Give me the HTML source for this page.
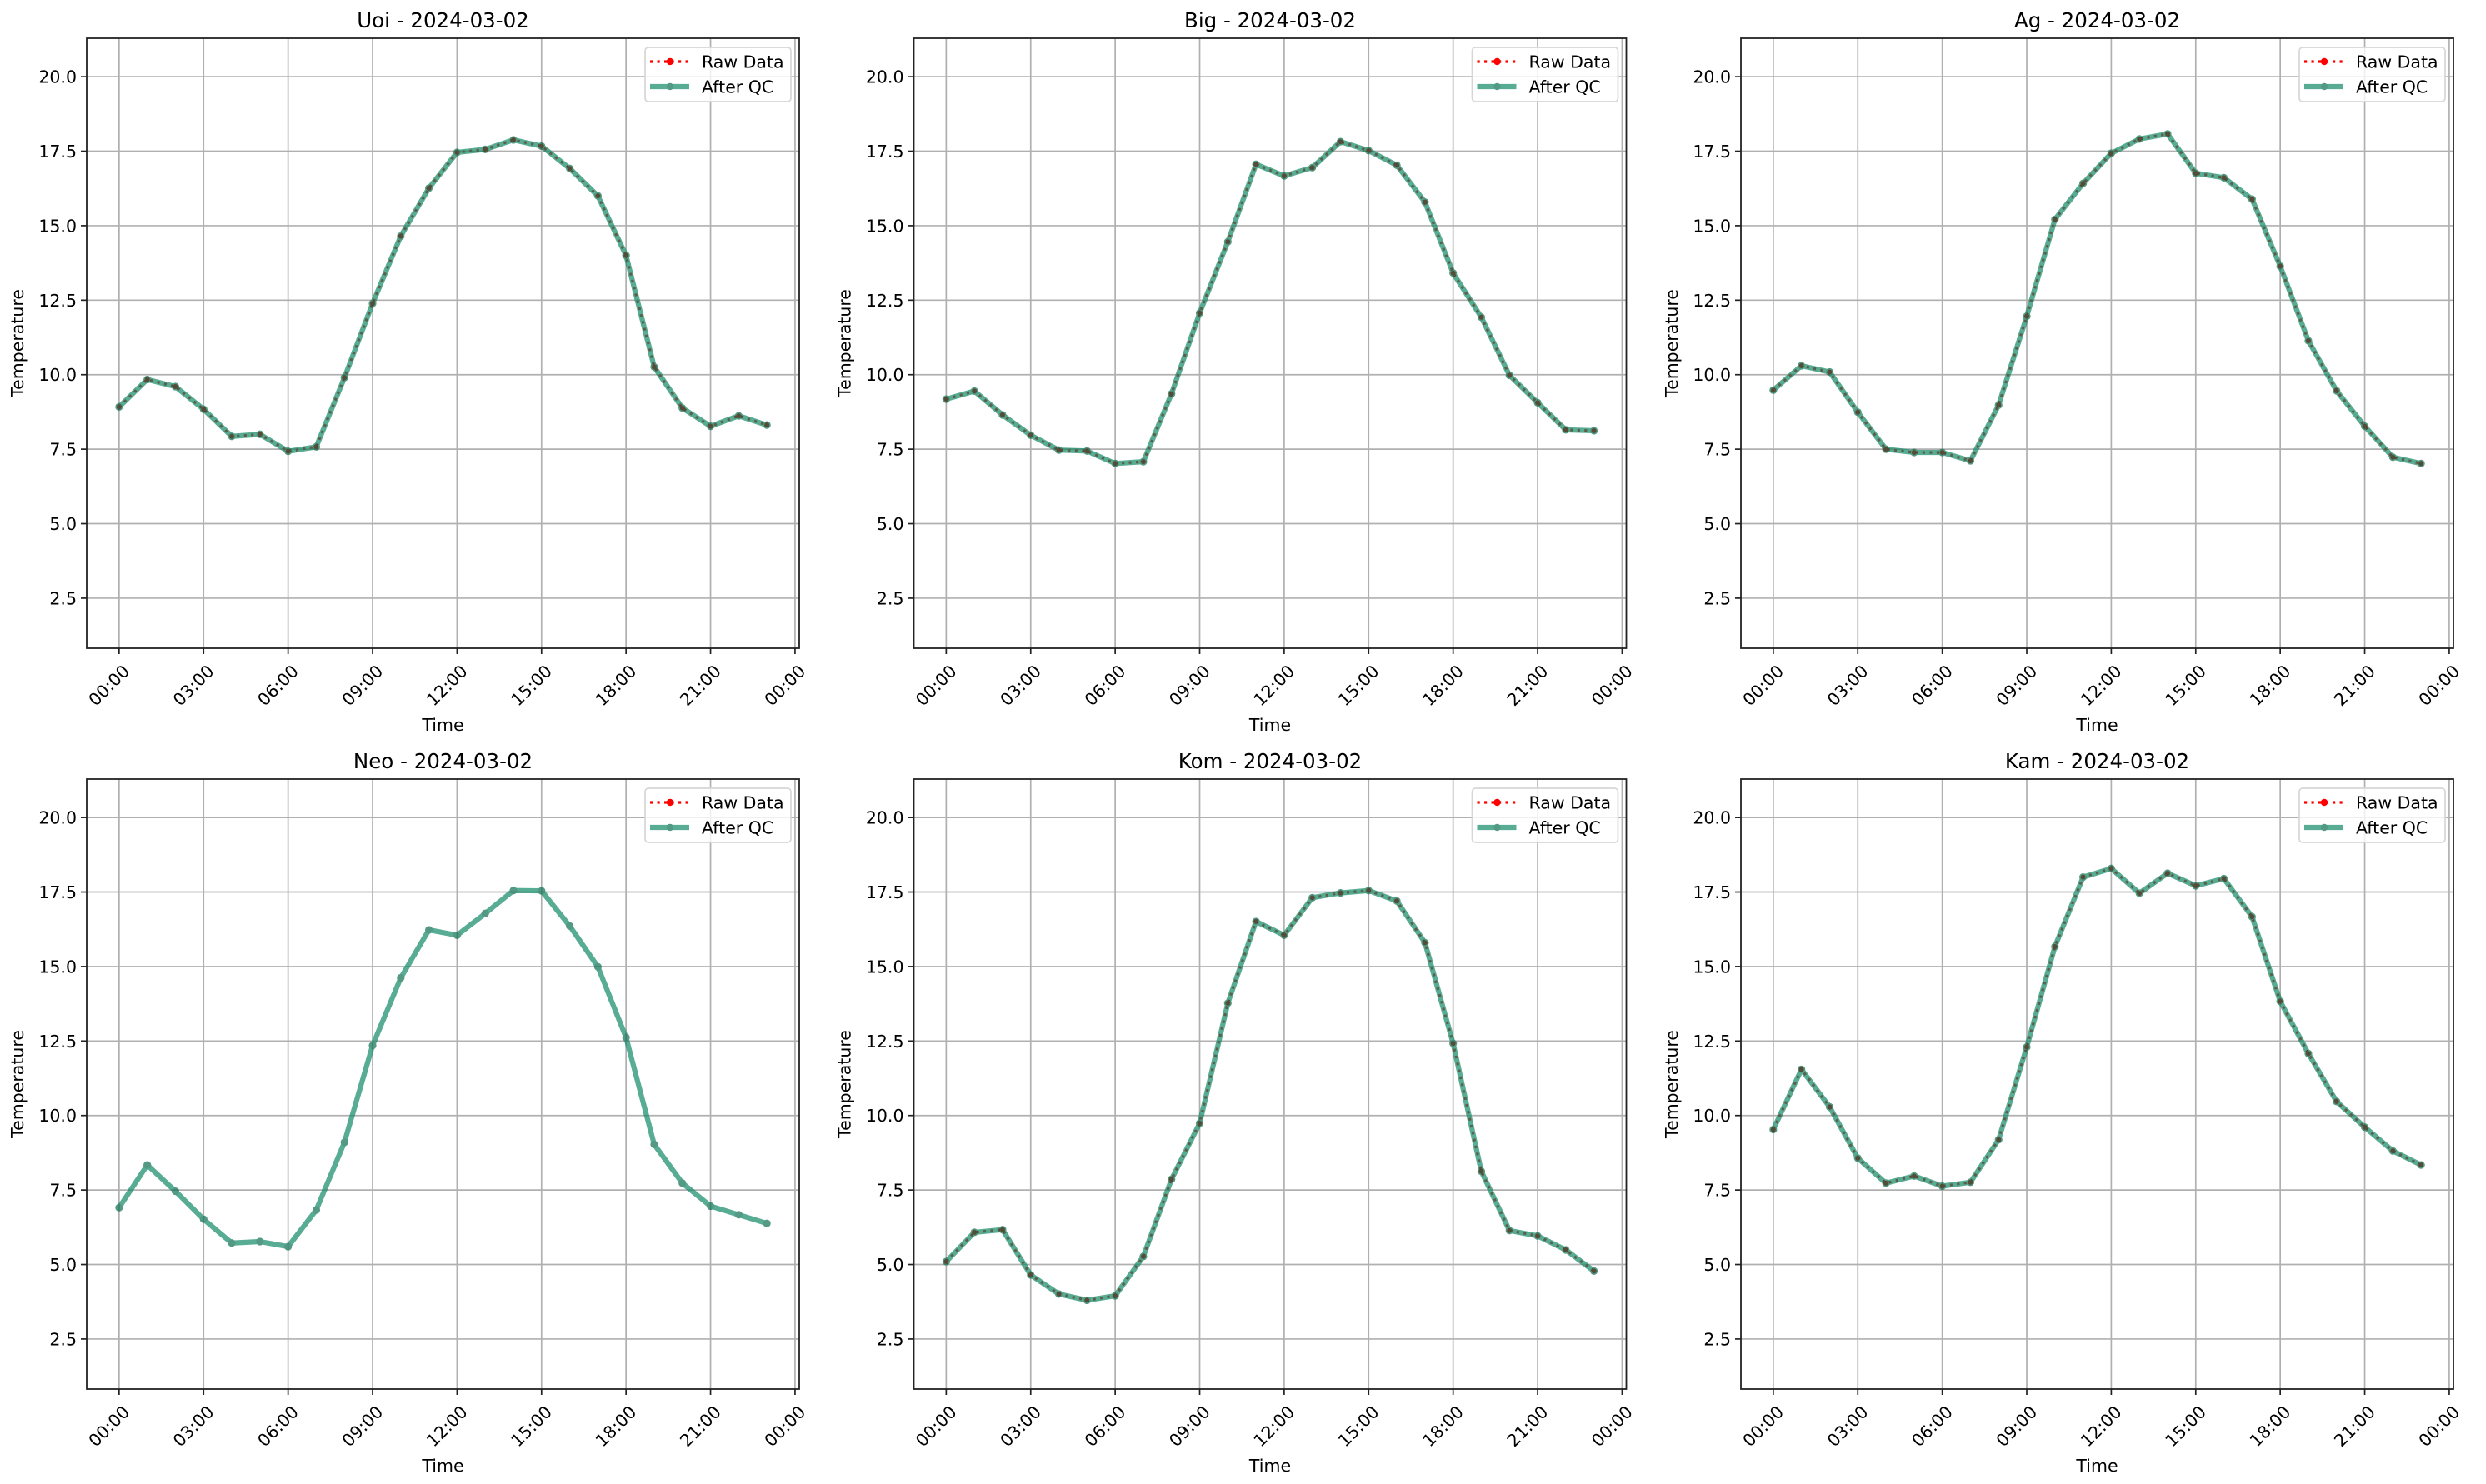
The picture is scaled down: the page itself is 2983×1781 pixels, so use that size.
<!DOCTYPE html>
<html><head><meta charset="utf-8"><style>
html,body{margin:0;padding:0;background:#fff}
svg{display:block}
text{font-family:"DejaVu Sans","Liberation Sans",sans-serif;fill:#000}
</style></head><body>
<svg id="fig" width="2983" height="1781" viewBox="0 0 2983 1781" xmlns="http://www.w3.org/2000/svg"></svg>
<script>
const hours = [0,1,2,3,4,5,6,7,8,9,10,11,12,13,14,15,16,17,18,19,20,21,22,23];
const stationNames = ["Uoi","Big","Ag","Neo","Kom","Kam"];
const dateLabel = "2024-03-02";
const uoiTemps = [8.92,9.84,9.6,8.84,7.93,8.0,7.43,7.58,9.9,12.39,14.65,16.26,17.46,17.56,17.88,17.67,16.92,16.0,14.0,10.26,8.88,8.27,8.62,8.31];
const bigTemps = [9.18,9.45,8.65,7.97,7.47,7.44,7.02,7.08,9.36,12.07,14.46,17.06,16.67,16.95,17.82,17.52,17.03,15.79,13.41,11.93,9.98,9.06,8.15,8.12];
const agTemps = [9.48,10.3,10.09,8.74,7.5,7.39,7.39,7.11,8.98,11.96,15.21,16.42,17.43,17.91,18.08,16.76,16.61,15.89,13.64,11.14,9.46,8.27,7.23,7.02];
const neoTemps = [6.91,8.34,7.46,6.52,5.72,5.77,5.6,6.83,9.1,12.35,14.62,16.23,16.05,16.78,17.55,17.54,16.36,14.99,12.62,9.03,7.73,6.96,6.67,6.38];
const komTemps = [5.1,6.08,6.17,4.65,4.01,3.8,3.95,5.27,7.86,9.74,13.77,16.51,16.05,17.31,17.47,17.55,17.2,15.8,12.42,8.13,6.14,5.96,5.49,4.78];
const kamTemps = [9.53,11.55,10.29,8.57,7.73,7.97,7.63,7.76,9.19,12.3,15.67,18.0,18.29,17.46,18.13,17.71,17.95,16.67,13.83,12.08,10.47,9.61,8.81,8.34];
const rawVisible = [true,true,true,false,true,true];
const yTicks = [2.5,5.0,7.5,10.0,12.5,15.0,17.5,20.0];
const xTicks = [0,3,6,9,12,15,18,21,24];
const xTickLabels = ["00:00","03:00","06:00","09:00","12:00","15:00","18:00","21:00","00:00"];
const Y_MIN = 0.82, Y_MAX = 21.29, X_MIN = -1.15, X_MAX = 24.15;

const allSeries = [uoiTemps,bigTemps,agTemps,neoTemps,komTemps,kamTemps];
const NS = "http://www.w3.org/2000/svg";
const fig = document.getElementById("fig");
function mk(tag, attrs, parent){
  const e = document.createElementNS(NS, tag);
  for (const k in attrs) e.setAttribute(k, attrs[k]);
  (parent||fig).appendChild(e);
  return e;
}
const W = 855, H = 732;
const colLeft = [104, 1096.5, 2089];
const rowTop = [46, 935];

allSeries.forEach((vals, i) => {
  const L = colLeft[i % 3], T = rowTop[Math.floor(i / 3)];
  const xs = h => L + (h - X_MIN) / (X_MAX - X_MIN) * W;
  const ys = v => T + H - (v - Y_MIN) / (Y_MAX - Y_MIN) * H;
  const g = mk("g", {});
  
  

  xTicks.forEach((t, k) => {
    const gl = mk("line", {x1: xs(t), x2: xs(t), y1: T, y2: T + H, stroke: "#b0b0b0", "stroke-width": 1.7}, g);
    
    
  });
  yTicks.forEach(t => {
    const gl = mk("line", {x1: L, x2: L + W, y1: ys(t), y2: ys(t), stroke: "#b0b0b0", "stroke-width": 1.7}, g);
    
    
  });

  const pts = vals.map((v, k) => xs(hours[k]) + "," + ys(v)).join(" ");
  if (rawVisible[i]) {
    const raw = mk("polyline", {points: pts, fill: "none", stroke: "#ff0000", "stroke-width": 3.2, "stroke-dasharray": "3.2 5.3"}, g);
    
    
    vals.forEach((v, k) => {
      const c = mk("circle", {cx: xs(hours[k]), cy: ys(v), r: 3, fill: "#ff0000"}, g);
      
      
    });
  }
  const qg = mk("g", {opacity: 0.7}, g);
  const qc = mk("polyline", {points: pts, fill: "none", stroke: "#138a68", "stroke-width": 6.2, "stroke-linejoin": "round"}, qg);
  
  
  vals.forEach((v, k) => {
    const c = mk("circle", {cx: xs(hours[k]), cy: ys(v), r: 4.6, fill: "#0b6e50"}, qg);
    
    
  });

  const fr = mk("rect", {x: L, y: T, width: W, height: H, fill: "none", stroke: "#222", "stroke-width": 1.8}, g);
  
  

  yTicks.forEach(t => {
    mk("line", {x1: L - 7, x2: L, y1: ys(t), y2: ys(t), stroke: "#222", "stroke-width": 1.7}, g);
    const tl = mk("text", {x: L - 12, y: ys(t) + 7.5, "text-anchor": "end", "font-size": 20.5}, g);
    tl.textContent = t.toFixed(1);
    
    
  });
  xTicks.forEach((t, k) => {
    mk("line", {x1: xs(t), x2: xs(t), y1: T + H, y2: T + H + 7, stroke: "#222", "stroke-width": 1.7}, g);
    const tx = xs(t) + 3, ty = T + H + 18;
    const tl = mk("text", {x: tx, y: ty, "text-anchor": "end", "font-size": 20.5, transform: `rotate(-45 ${tx} ${ty})`, "dominant-baseline": "hanging"}, g);
    tl.textContent = xTickLabels[k];
    
    
  });

  const title = mk("text", {x: L + W / 2, y: T - 13, "text-anchor": "middle", "font-size": 24.5}, g);
  title.textContent = stationNames[i] + " - " + dateLabel;
  
  
  const xl = mk("text", {x: L + W / 2, y: T + H + 99, "text-anchor": "middle", "font-size": 20.5}, g);
  xl.textContent = "Time";
  
  
  const yx = L - 76, yy = T + H / 2;
  const yl = mk("text", {x: yx, y: yy, "text-anchor": "middle", "font-size": 20.5, transform: `rotate(-90 ${yx} ${yy})`}, g);
  yl.textContent = "Temperature";
  
  

  const lx = L + W - 185, ly = T + 11;
  const lg = mk("g", {}, g);
  
  
  mk("rect", {x: lx, y: ly, width: 175, height: 65, rx: 4, fill: "rgba(255,255,255,0.8)", stroke: "#d6d6d6", "stroke-width": 1.7}, lg);
  const r1 = ly + 17, r2 = ly + 47;
  mk("line", {x1: lx + 6, x2: lx + 53, y1: r1, y2: r1, stroke: "#ff0000", "stroke-width": 3.2, "stroke-dasharray": "3.2 5.3"}, lg);
  mk("circle", {cx: lx + 30, cy: r1, r: 4.2, fill: "#ff0000"}, lg);
  const t1 = mk("text", {x: lx + 68, y: r1 + 7.5, "font-size": 20.5}, lg);
  t1.textContent = "Raw Data";
  
  
  const lq = mk("g", {opacity: 0.7}, lg);
  mk("line", {x1: lx + 6, x2: lx + 53, y1: r2, y2: r2, stroke: "#138a68", "stroke-width": 6.2}, lq);
  mk("circle", {cx: lx + 30, cy: r2, r: 4.2, fill: "#0b6e50"}, lq);
  const t2 = mk("text", {x: lx + 68, y: r2 + 7.5, "font-size": 20.5}, lg);
  t2.textContent = "After QC";
  
  
});
</script>
</body></html>
